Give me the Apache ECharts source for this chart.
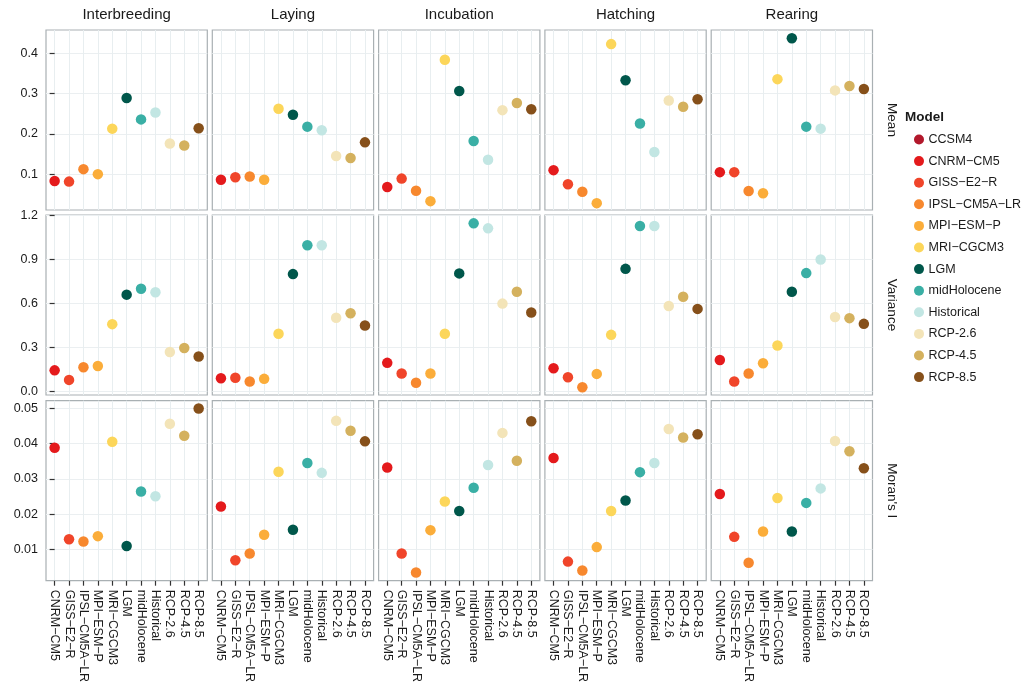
<!DOCTYPE html>
<html>
<head>
<meta charset="utf-8">
<script src="https://cdn.jsdelivr.net/npm/echarts@6/dist/echarts.min.js"></script>
<style>
	html, body { margin: 0; padding: 0; background: #fff; }
	#chart { width: 1025px; height: 686px; }
</style>
</head>
<body>
<div id="chart"></div>
<script>
var models = ['CNRM\u2212CM5', 'GISS\u2212E2\u2212R', 'IPSL\u2212CM5A\u2212LR', 'MPI\u2212ESM\u2212P', 'MRI\u2212CGCM3',
	'LGM', 'midHolocene', 'Historical', 'RCP-2.6', 'RCP-4.5', 'RCP-8.5'];
var legendModels = ['CCSM4'].concat(models);
var stages = ['Interbreeding', 'Laying', 'Incubation', 'Hatching', 'Rearing'];
var statistics = ['Mean', 'Variance', "Moran's I"];

var meanInterbreeding = [0.083, 0.0815, 0.1125, 0.100, 0.213, 0.289, 0.236, 0.253, 0.176, 0.171, 0.214];
var meanLaying = [0.086, 0.0925, 0.094, 0.086, 0.2625, 0.2475, 0.218, 0.209, 0.145, 0.140, 0.179];
var meanIncubation = [0.068, 0.089, 0.059, 0.033, 0.384, 0.3065, 0.1825, 0.136, 0.259, 0.2765, 0.261];
var meanHatching = [0.110, 0.075, 0.0565, 0.028, 0.423, 0.333, 0.226, 0.155, 0.283, 0.2675, 0.286];
var meanRearing = [0.105, 0.105, 0.058, 0.0525, 0.336, 0.4375, 0.218, 0.213, 0.308, 0.319, 0.3115];

var varianceInterbreeding = [0.144, 0.079, 0.165, 0.174, 0.459, 0.660, 0.700, 0.676, 0.269, 0.296, 0.239];
var varianceLaying = [0.090, 0.093, 0.068, 0.086, 0.393, 0.800, 0.997, 0.997, 0.502, 0.533, 0.450];
var varianceIncubation = [0.195, 0.122, 0.059, 0.122, 0.393, 0.805, 1.146, 1.112, 0.599, 0.680, 0.538];
var varianceHatching = [0.158, 0.097, 0.029, 0.120, 0.386, 0.836, 1.128, 1.128, 0.583, 0.646, 0.563];
var varianceRearing = [0.215, 0.068, 0.122, 0.192, 0.314, 0.680, 0.807, 0.900, 0.508, 0.500, 0.461];

var moranInterbreeding = [0.0388, 0.0129, 0.0123, 0.0138, 0.0405, 0.0110, 0.0264, 0.0251, 0.0456, 0.0422, 0.0499];
var moranLaying = [0.0222, 0.0070, 0.0089, 0.0142, 0.0320, 0.0156, 0.0345, 0.0317, 0.0464, 0.0436, 0.0406];
var moranIncubation = [0.0332, 0.0089, 0.0035, 0.0155, 0.0236, 0.0209, 0.0275, 0.0339, 0.0430, 0.0351, 0.0463];
var moranHatching = [0.0359, 0.0066, 0.0041, 0.0107, 0.0209, 0.0239, 0.0319, 0.0345, 0.0441, 0.0417, 0.0426];
var moranRearing = [0.0257, 0.0136, 0.0063, 0.0151, 0.0246, 0.0151, 0.0232, 0.0273, 0.0407, 0.0378, 0.0330];

var meanTicks = [0.1, 0.2, 0.3, 0.4];
var varianceTicks = [0, 0.3, 0.6, 0.9, 1.2];
var moranTicks = [0.01, 0.02, 0.03, 0.04, 0.05];

var modelColors = ['#b2182b', '#e41a1c', '#f0452a', '#f7882e', '#fbad3a', '#fcd65a',
	'#00574b', '#3aafa5', '#c2e6e3', '#f3e4b8', '#d4b15e', '#86501a'];

var panelValues = [
	[meanInterbreeding, meanLaying, meanIncubation, meanHatching, meanRearing],
	[varianceInterbreeding, varianceLaying, varianceIncubation, varianceHatching, varianceRearing],
	[moranInterbreeding, moranLaying, moranIncubation, moranHatching, moranRearing]
];
var rowTicks = [meanTicks, varianceTicks, moranTicks];
var rowRange = [[0.011, 0.458], [-0.024, 1.203], [0.0012, 0.0521]];
var rowDigits = [1, 1, 2];

var font = 'Liberation Sans, Arial, sans-serif';
var panelLeft = 46, panelStep = 166.3, panelWidth = 161.3;
var rowTop = [30, 215, 400.7], panelHeight = 180;
var categoryIdx = models.map(function (m, i) { return i; });

var grids = [], xAxes = [], yAxes = [], series = [], graphics = [];

for (var r = 0; r < 3; r++) {
	for (var c = 0; c < 5; c++) {
		var idx = grids.length;
		grids.push({
			left: panelLeft + c * panelStep,
			top: rowTop[r],
			width: panelWidth,
			height: panelHeight,
			show: true,
			borderColor: '#a9b0b3',
			borderWidth: 1.2,
			backgroundColor: '#fff'
		});
		xAxes.push({
			type: 'value',
			gridIndex: idx,
			min: -0.6,
			max: 10.6,
			axisLine: { show: false },
			axisTick: {
				show: r === 2,
				customValues: categoryIdx,
				length: 5,
				lineStyle: { color: '#333', width: 1.2 }
			},
			axisLabel: {
				show: r === 2,
				customValues: categoryIdx,
				rotate: -90,
				margin: 9,
				color: '#1a1a1a',
				fontSize: 12.5,
				fontFamily: font,
				formatter: function (v) { return models[Math.round(v)]; }
			},
			splitLine: { show: true, lineStyle: { color: '#e8eef0', width: 1 } }
		});
		yAxes.push({
			type: 'value',
			gridIndex: idx,
			min: rowRange[r][0],
			max: rowRange[r][1],
			axisLine: { show: false },
			axisTick: {
				show: c === 0,
				customValues: rowTicks[r],
				length: 5,
				lineStyle: { color: '#333', width: 1.2 }
			},
			axisLabel: {
				show: c === 0,
				customValues: rowTicks[r],
				margin: 8,
				color: '#1a1a1a',
				fontSize: 12.5,
				fontFamily: font,
				formatter: (function (d) {
					return function (v) { return v.toFixed(d); };
				})(rowDigits[r])
			},
			splitLine: { show: true, lineStyle: { color: '#ebeff1', width: 1 } }
		});
		for (var m = 0; m < models.length; m++) {
			series.push({
				type: 'scatter',
				name: models[m],
				xAxisIndex: idx,
				yAxisIndex: idx,
				symbolSize: 10.5,
				itemStyle: { color: modelColors[m + 1], opacity: 1 },
				data: [[m, panelValues[r][c][m]]]
			});
		}
	}
}

// CCSM4 is only in the legend
series.unshift({
	type: 'scatter',
	name: 'CCSM4',
	xAxisIndex: 0,
	yAxisIndex: 0,
	itemStyle: { color: modelColors[0], opacity: 1 },
	data: []
});

// facet strip labels
stages.forEach(function (s, c) {
	graphics.push({
		type: 'text',
		x: panelLeft + c * panelStep + panelWidth / 2,
		y: 15,
		style: { text: s, fill: '#1a1a1a', font: '15px ' + font, align: 'center', verticalAlign: 'middle' }
	});
});
statistics.forEach(function (s, r) {
	graphics.push({
		type: 'text',
		x: 892,
		y: rowTop[r] + panelHeight / 2,
		rotation: -Math.PI / 2,
		style: { text: s, fill: '#1a1a1a', font: '13.5px ' + font, align: 'center', verticalAlign: 'middle' }
	});
});
graphics.push({
	type: 'text',
	x: 905,
	y: 117,
	style: { text: 'Model', fill: '#1a1a1a', font: 'bold 13.5px ' + font, align: 'left', verticalAlign: 'middle' }
});

var chart = echarts.init(document.getElementById('chart'), null, { renderer: 'canvas' });
chart.setOption({
	backgroundColor: '#fff',
	animation: false,
	grid: grids,
	xAxis: xAxes,
	yAxis: yAxes,
	legend: {
		data: legendModels,
		orient: 'vertical',
		left: 909,
		top: 128,
		icon: 'circle',
		itemWidth: 13,
		itemHeight: 10,
		itemGap: 8.6,
		padding: 5,
		textStyle: { color: '#1a1a1a', fontSize: 12.5, fontFamily: font, lineHeight: 13, padding: [0, 0, 0, -2] }
	},
	graphic: graphics,
	series: series
});
</script>
</body>
</html>
